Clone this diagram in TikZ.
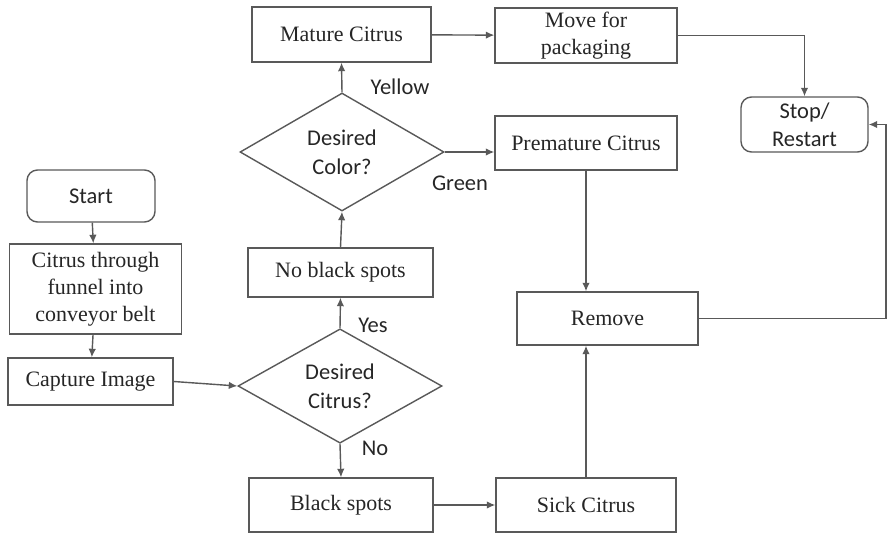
\documentclass[tikz,border=0pt]{standalone}
\usepackage{fontspec}
\setmainfont{Liberation Serif}
\newfontfamily\calibri{Carlito}
\usetikzlibrary{arrows.meta,positioning,shapes.geometric}
\definecolor{FCLine}{HTML}{595959}
\definecolor{FCText}{HTML}{262626}

\begin{document}
\begin{tikzpicture}[
    x=1cm,y=1cm,font=\fontsize{12.5}{15.5}\selectfont,text=FCText,
    proc/.style={draw=FCLine,line width=0.8pt,fill=white,align=center,inner sep=2pt},
    term/.style={draw=FCLine,line width=0.8pt,rounded corners=6pt,fill=white,
      align=center,inner sep=2pt,font=\calibri\fontsize{12.8}{16}\selectfont},
    decide/.style={diamond,draw=FCLine,line width=0.8pt,fill=white,align=center,
      inner sep=0pt,font=\calibri\fontsize{12.8}{16.5}\selectfont},
    lbl/.style={font=\calibri\fontsize{12.8}{16}\selectfont},
    arrow/.style={-{Latex[length=1.7mm,width=1.5mm]},line width=0.8pt,draw=FCLine}
  ]
    \useasboundingbox (0,0) rectangle (17.78,-10.68);
    \node[term,minimum width=2.56cm,minimum height=1.04cm] (start) at (1.82,-3.92) {Start};
    \node[proc,minimum width=3.44cm,minimum height=1.80cm] (funnel) at (1.91,-5.78) {Citrus through\\funnel into\\conveyor belt};
    \node[proc,minimum width=3.30cm,minimum height=0.94cm] (capture) at (1.81,-7.63) {Capture Image};
    \node[decide,minimum width=4.08cm,minimum height=1.98cm] (dcitrus) at (6.80,-7.72) {Desired\\Citrus?};
    \node[proc,minimum width=3.70cm,minimum height=0.98cm] (noblack) at (6.81,-5.45) {No black spots};
    \node[decide,minimum width=4.08cm,minimum height=2.36cm] (dcolor) at (6.84,-3.04) {Desired\\Color?};
    \node[proc,minimum width=3.58cm,minimum height=1.10cm] (mature) at (6.83,-0.69) {Mature Citrus};
    \node[proc,minimum width=3.64cm,minimum height=1.10cm] (move) at (11.72,-0.71) {Move for\\packaging};
    \node[proc,minimum width=3.64cm,minimum height=1.08cm] (premature) at (11.72,-2.86) {Premature Citrus};
    \node[term,minimum width=2.54cm,minimum height=1.10cm] (stop) at (16.09,-2.49) {Stop/\\Restart};
    \node[proc,minimum width=3.62cm,minimum height=1.06cm] (remove) at (12.15,-6.37) {Remove};
    \node[proc,minimum width=3.68cm,minimum height=1.08cm] (black) at (6.82,-10.10) {Black spots};
    \node[proc,minimum width=3.60cm,minimum height=1.08cm] (sick) at (11.72,-10.10) {Sick Citrus};
    \coordinate (back) at (17.72,-6.37);

    % branch labels
    \node[lbl] (yes) at (7.46,-6.50) {Yes};
    \node[lbl] (no) at (7.50,-8.96) {No};
    \node[lbl] (yellow) at (8.00,-1.74) {Yellow};
    \node[lbl] (green) at (9.20,-3.66) {Green};

    \draw[arrow] (start) -- (funnel);
    \draw[arrow] (funnel) -- (capture);
    \draw[arrow] (capture.east) -- (dcitrus.west);
    \draw[arrow] (dcitrus.north) -- (noblack.south);
    \draw[arrow] (dcitrus.south) -- (black.north);
    \draw[arrow] (noblack.north) -- (dcolor.south);
    \draw[arrow] (dcolor.north) -- (mature.south);
    \draw[arrow] (dcolor.east) -- (dcolor.east -| premature.west);
    \draw[arrow] (mature) -- (move);
    \draw[arrow] (move.east) -| (stop.north);
    \draw[arrow] (premature.south) -- (premature.south |- remove.north);
    \draw[arrow] (black) -- (sick);
    \draw[arrow] (sick.north) -- (sick.north |- remove.south);
    \draw[arrow] (remove.east) -- (back) |- (stop.east);
  \end{tikzpicture}
\end{document}
